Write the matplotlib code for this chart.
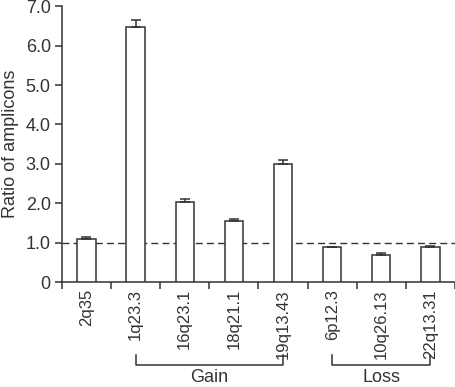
import numpy as np
import matplotlib
matplotlib.use("Agg")
import matplotlib.pyplot as plt
import matplotlib.transforms as mtransforms

plt.rcParams['font.family'] = ['Liberation Sans', 'DejaVu Sans']

# datos
regiones = ["2q35", "1q23.3", "16q23.1", "18q21.1", "19q13.43", "6p12.3", "10q26.13", "22q13.31"]
ratios = [1.09, 6.46, 2.04, 1.54, 3.0, 0.88, 0.70, 0.90]
errores = [0.05, 0.19, 0.07, 0.05, 0.10, 0.02, 0.05, 0.02]
y_ticks = [0, 1, 2, 3, 4, 5, 6, 7]
y_labels = ["0", "1.0", "2.0", "3.0", "4.0", "5.0", "6.0", "7.0"]
grupos = [("Gain", 1, 4), ("Loss", 5, 7)]

gris = "#333333"
tam = 13

fig = plt.figure(figsize=(4.55, 3.87), dpi=100)
ax = fig.add_axes([0.136, 0.271, 0.864, 0.713])

x = np.arange(len(regiones))
ax.bar(x, ratios, width=0.37, color="white", edgecolor=gris, linewidth=1.1,
       yerr=[np.zeros(len(errores)), errores], capsize=3.5,
       error_kw=dict(ecolor=gris, elinewidth=1.1, capthick=1.1), zorder=3)

# linea de referencia en 1.0
ax.axhline(1.0, color=gris, linestyle=(0, (5, 3)), linewidth=1.0, zorder=2)

ax.set_xlim(-0.5, len(regiones) - 0.5)
ax.set_ylim(0, 7)
ax.set_yticks(y_ticks)
ax.set_yticklabels(y_labels, fontsize=tam, color=gris)
ax.set_xticks(x)
ax.set_xticklabels(regiones, rotation=90, fontsize=12, color=gris)
ax.tick_params(axis='x', length=0, pad=5)
ax.set_xticks(np.arange(-0.5, len(regiones)), minor=True)
ax.tick_params(axis='x', which='minor', length=5, width=1.1, color=gris, direction='out')
ax.tick_params(axis='y', length=5, width=1.1, color=gris, direction='out', pad=3)

for lado in ["top", "right"]:
    ax.spines[lado].set_visible(False)
for lado in ["left", "bottom"]:
    ax.spines[lado].set_color(gris)
    ax.spines[lado].set_linewidth(1.1)

ax.set_ylabel("Ratio of amplicons", fontsize=tam, color=gris, labelpad=5)

# corchetes de grupos
trans = mtransforms.blended_transform_factory(ax.transData, ax.transAxes)
for nombre, ini, fin in grupos:
    ax.plot([ini, ini, fin, fin], [-0.265, -0.302, -0.302, -0.265], color=gris,
            linewidth=1.1, transform=trans, clip_on=False)
    ax.text((ini + fin) / 2, -0.362, nombre, transform=trans, ha="center", va="baseline",
            fontsize=tam, color=gris)

fig.savefig("out.png", dpi=100)
